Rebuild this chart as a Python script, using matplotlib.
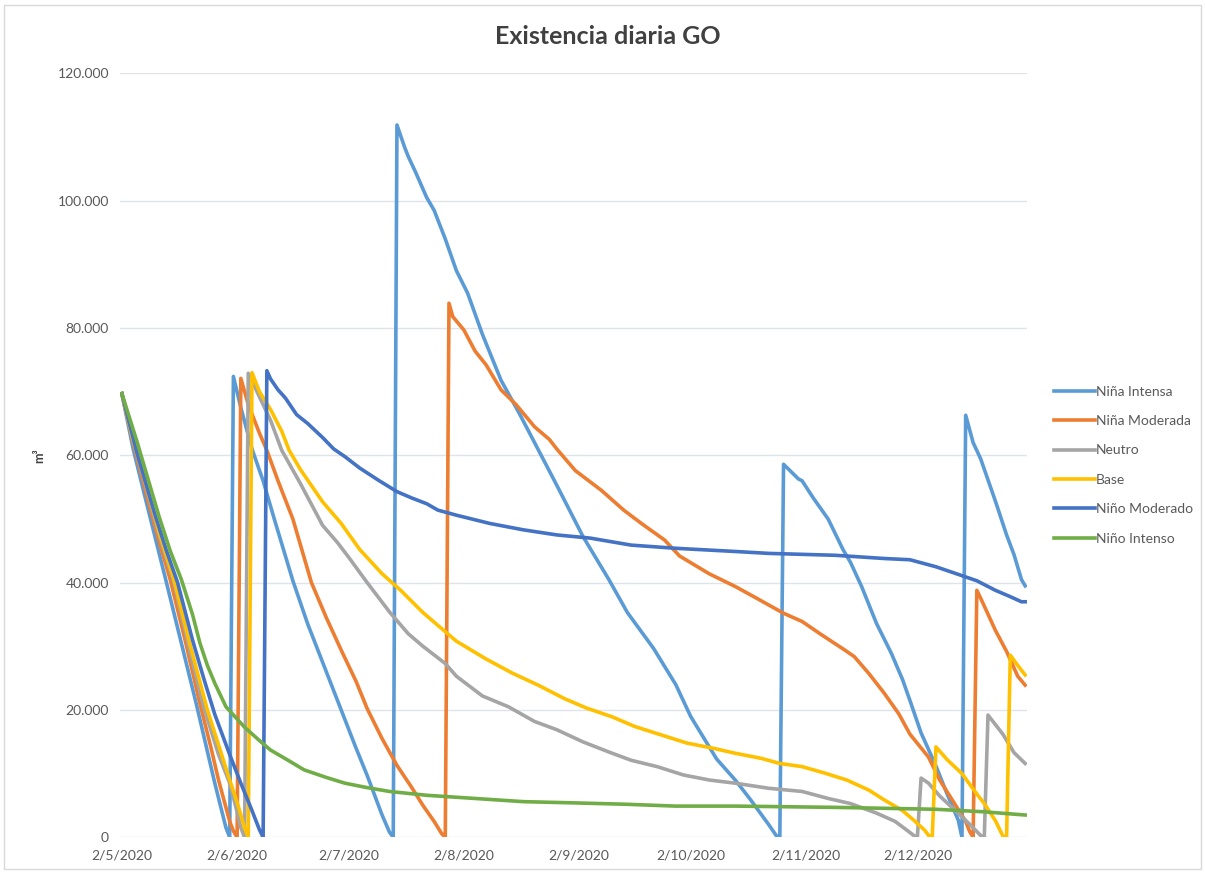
import pandas as pd
import matplotlib
matplotlib.use("Agg")
import matplotlib.pyplot as plt
import matplotlib.patches as patches
from matplotlib.ticker import FuncFormatter, MultipleLocator

plt.rcParams["font.family"] = ["Lato", "DejaVu Sans"]

start = pd.Timestamp("2020-05-02")
end_day = 243

# daily stock per scenario (day offset from start, m3)
nina_intensa_days = [0, 3, 6, 9, 12, 16, 20, 25, 28, 29, 30, 32, 35, 38, 41, 46, 50, 53, 59, 63, 66, 70, 72, 73,
                     74, 76, 77, 79, 82, 84, 87, 90, 93, 97, 102, 107, 112, 117, 124, 131, 136, 143, 149, 153,
                     160, 165, 169, 174, 176, 177, 178, 182, 183, 186, 190, 194, 196, 199, 203, 207, 210, 212,
                     215, 219, 222, 225, 226, 227, 229, 231, 235, 238, 240, 242, 243]
nina_intensa = [69700, 61100, 54000, 47000, 40000, 30500, 21000, 8500, 1500, 0, 72400, 67500, 61000, 56000,
                50000, 40300, 33500, 29000, 20000, 14000, 9700, 3500, 800, 0,
                111900, 108500, 107000, 104500, 100500, 98500, 94000, 89000, 85500, 79000, 71800, 66500,
                60900, 55300, 47300, 40500, 35300, 29700, 24000, 19000, 12300, 9000, 6000, 2000, 300, 0,
                58600, 56300, 56000, 53300, 50000, 45200, 43200, 39400, 33600, 28900, 24800, 21500, 16400,
                11200, 6800, 2700, 0, 66300, 62000, 59500, 52800, 47500, 44400, 40500, 39500]

nina_moderada_days = [0, 3, 7, 10, 13, 17, 21, 24, 26, 29, 30, 31, 32, 34, 37, 39, 42, 46, 51, 55, 59, 63, 66,
                      70, 74, 78, 81, 84, 86, 87, 88, 89, 92, 95, 98, 102, 106, 111, 115, 117, 122, 129, 135,
                      140, 146, 150, 158, 165, 170, 174, 178, 183, 188, 194, 197, 201, 205, 209, 212, 217,
                      220, 224, 227, 228, 229, 230, 231, 235, 238, 241, 243]
nina_moderada = [69700, 62000, 53000, 46500, 40500, 31000, 21000, 14000, 9000, 2500, 1000, 0, 72100, 68000,
                 63500, 60800, 56000, 50000, 40000, 34500, 29400, 24500, 20200, 15500, 11300, 7800, 5000,
                 2500, 600, 0, 83900, 81800, 79700, 76400, 74200, 70300, 68000, 64500, 62500, 61000, 57600,
                 54500, 51400, 49200, 46700, 44200, 41400, 39400, 37800, 36500, 35200, 33900, 31900, 29600,
                 28400, 25700, 22700, 19400, 16200, 12600, 9000, 5300, 2500, 1000, 0, 38800, 37600, 32500,
                 29200, 25300, 23900]

neutro_days = [0, 3, 7, 10, 14, 18, 22, 26, 29, 31, 32, 33, 34, 37, 40, 43, 48, 54, 58, 61, 66, 72, 77, 81,
               87, 90, 97, 104, 111, 117, 124, 131, 137, 144, 151, 158, 165, 174, 183, 190, 196, 203, 208,
               211, 213, 214, 215, 217, 220, 224, 228, 231, 232, 233, 237, 240, 243]
neutro = [69700, 62300, 54000, 47500, 40000, 30000, 20500, 13000, 8500, 4000, 1500, 0, 72900, 69200, 65500,
          60800, 55600, 49000, 46300, 44000, 40000, 35400, 32000, 30000, 27300, 25300, 22200, 20500, 18200,
          16900, 15000, 13400, 12100, 11100, 9800, 9000, 8500, 7700, 7200, 6100, 5300, 3800, 2500, 1200, 300,
          0, 9300, 8500, 6500, 4300, 2100, 300, 0, 19200, 16200, 13300, 11600]

base_days = [0, 3, 7, 10, 14, 18, 23, 26, 29, 31, 33, 34, 35, 37, 40, 43, 45, 48, 54, 59, 64, 70, 75, 81, 87,
             90, 98, 105, 112, 119, 125, 132, 138, 145, 152, 159, 165, 172, 177, 183, 189, 195, 201, 205, 210,
             213, 216, 217, 218, 219, 222, 226, 230, 232, 235, 237, 238, 239, 241, 243]
base = [69700, 62500, 54500, 48000, 40500, 31000, 20000, 14500, 9000, 5500, 1500, 0, 73000, 70000, 67200,
        63800, 60800, 57800, 52700, 49300, 45200, 41400, 38800, 35300, 32300, 30800, 28000, 25800, 23900,
        21800, 20300, 18900, 17400, 16100, 14800, 14000, 13200, 12400, 11600, 11100, 10100, 9000, 7400, 5900,
        4200, 2700, 1100, 300, 0, 14200, 12200, 10000, 6800, 5300, 2600, 200, 0, 28600, 27000, 25500]

nino_moderado_days = [0, 4, 9, 12, 15, 19, 22, 25, 29, 32, 35, 37, 38, 39, 40, 42, 44, 47, 50, 54, 57, 60, 64,
                      69, 74, 78, 82, 85, 90, 99, 108, 117, 126, 137, 149, 165, 174, 192, 205, 212, 219, 224,
                      230, 235, 239, 242, 243]
nino_moderado = [69700, 60500, 50500, 45000, 40000, 31000, 25000, 19300, 13000, 8500, 4200, 1200, 0, 73300,
                 72000, 70300, 69000, 66400, 65000, 62800, 61000, 59800, 58000, 56100, 54300, 53300, 52400,
                 51400, 50600, 49300, 48300, 47500, 47000, 45900, 45400, 44900, 44600, 44300, 43800, 43600,
                 42500, 41500, 40300, 38800, 37800, 37000, 37000]

nino_intenso_days = [0, 4, 10, 13, 16, 19, 21, 23, 25, 28, 33, 37, 40, 45, 49, 55, 60, 66, 72, 82, 95, 108,
                     122, 135, 149, 165, 192, 219, 232, 243]
nino_intenso = [69700, 62300, 50400, 45000, 40500, 35000, 30500, 27000, 24200, 20500, 17300, 15200, 13700,
                12000, 10600, 9400, 8500, 7800, 7200, 6600, 6100, 5600, 5400, 5200, 4900, 4900, 4700, 4400,
                4000, 3500]

scenarios = ["Niña Intensa", "Niña Moderada", "Neutro", "Base", "Niño Moderado", "Niño Intenso"]
colors = ["#5B9BD5", "#ED7D31", "#A5A5A5", "#FFC000", "#4472C4", "#70AD47"]
series = [(nina_intensa_days, nina_intensa), (nina_moderada_days, nina_moderada), (neutro_days, neutro),
          (base_days, base), (nino_moderado_days, nino_moderado), (nino_intenso_days, nino_intenso)]

fig = plt.figure(figsize=(12.05, 8.72), dpi=100)
ax = fig.add_axes([0.0996, 0.0398, 0.7527, 0.876])

for name, color, (days, vals) in zip(scenarios, colors, series):
    dates = start + pd.to_timedelta(days, unit="D")
    ax.plot(dates, vals, color=color, lw=2.6, label=name, solid_joinstyle="round")

ax.set_xlim(start - pd.Timedelta(hours=12), start + pd.Timedelta(days=end_day, hours=12))
ax.set_ylim(0, 120000)

ticks = pd.date_range("2020-05-02", "2020-12-02", freq=pd.DateOffset(months=1))
ax.set_xticks(ticks)
ax.set_xticklabels([f"{t.day}/{t.month}/{t.year}" for t in ticks])
ax.yaxis.set_major_locator(MultipleLocator(20000))
ax.yaxis.set_major_formatter(FuncFormatter(lambda v, p: f"{v:,.0f}".replace(",", ".")))

ax.grid(axis="y", color="#dfe4ea", lw=1)
ax.set_axisbelow(True)
for s in ax.spines.values():
    s.set_visible(False)
ax.tick_params(length=0, labelsize=10, labelcolor="#595959")
ax.tick_params(axis="x", pad=9)
ax.tick_params(axis="y", pad=8)

ax.set_ylabel("m³", fontsize=9, fontweight="bold", color="#404040", labelpad=9)
fig.text(0.504, 0.958, "Existencia diaria GO", ha="center", va="center", fontsize=18,
         fontweight="bold", color="#404040")

fig.legend(loc="upper left", bbox_to_anchor=(0.864, 0.572), frameon=False, fontsize=10,
           handlelength=3.0, handletextpad=0.05, labelspacing=1.25, labelcolor="#595959")

fig.patches.append(patches.Rectangle((0.003, 0.004), 0.994, 0.99, transform=fig.transFigure,
                                     fill=False, edgecolor="#d9d9d9", lw=1))

fig.savefig("out.png", dpi=100)
